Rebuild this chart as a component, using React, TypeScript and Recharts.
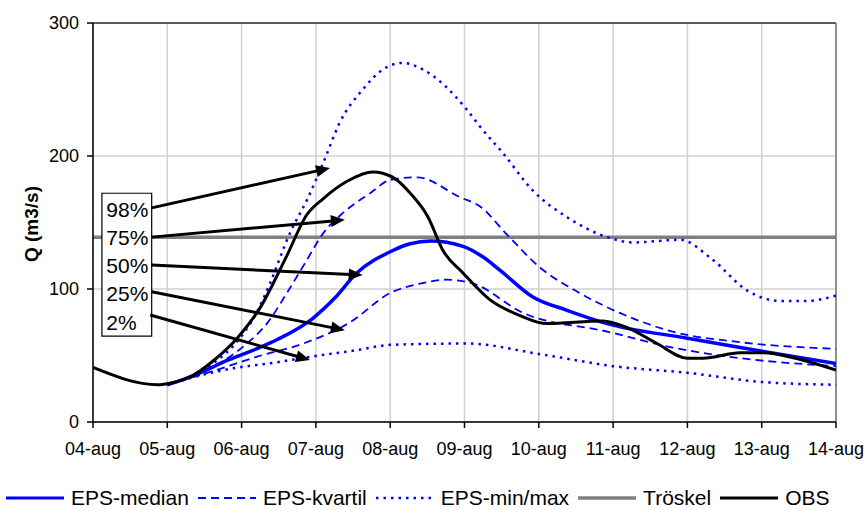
import {
  LineChart,
  Line,
  XAxis,
  YAxis,
  CartesianGrid,
  ReferenceLine,
  ReferenceArea,
  ReferenceDot,
  Label,
} from "recharts";

// x = days after 04-aug 00:00
const dateLabels = [
  "04-aug", "05-aug", "06-aug", "07-aug", "08-aug", "09-aug",
  "10-aug", "11-aug", "12-aug", "13-aug", "14-aug",
];
const yTicks = [0, 100, 200, 300];

const obsDay = [0, 0.87, 1.02, 1.31, 1.64, 1.94, 2.25, 2.6, 2.88, 3.1, 3.42, 3.77, 3.9, 4.09, 4.27, 4.51, 4.71, 4.98, 5.34, 5.75, 6.11, 6.86, 7.19, 7.59, 8.0, 8.21, 8.71, 9.02, 9.52, 10];
const obsQ = [41, 28, 29, 34, 47, 63, 86, 124, 156, 168, 181, 188, 187, 182, 172, 154, 129, 112, 92, 80, 74, 76, 71, 59, 48, 48, 52, 52, 47, 39];

const medianDay = [1.0, 1.31, 1.84, 2.2, 2.48, 2.96, 3.25, 3.55, 4.0, 4.27, 4.54, 4.98, 5.25, 5.48, 5.92, 6.38, 6.92, 8.0, 8.71, 10];
const medianQ = [28, 34, 47, 55, 62, 78, 93, 112, 128, 134, 136, 132, 124, 114, 94, 84, 74, 63, 56, 44];

const q75Day = [1.0, 1.4, 1.84, 2.07, 2.34, 2.61, 2.88, 3.1, 3.36, 3.73, 4.0, 4.36, 4.94, 5.21, 5.57, 6.02, 6.55, 7.09, 7.8, 8.71, 10];
const q75Q = [28, 36, 49, 59, 74, 97, 122, 142, 157, 172, 182, 184, 169, 162, 141, 116, 97, 82, 68, 60, 55];

const q25Day = [1.0, 1.6, 2.2, 2.83, 3.46, 4.0, 4.4, 4.76, 5.12, 5.79, 6.92, 7.8, 8.71, 10];
const q25Q = [28, 38, 49, 59, 75, 97, 104, 107, 104, 82, 68, 56, 48, 42];

const maxDay = [1.0, 1.5, 1.9, 2.2, 2.38, 2.65, 2.88, 3.1, 3.32, 3.63, 3.9, 4.17, 4.44, 5.03, 5.21, 5.52, 5.92, 6.38, 6.92, 7.27, 7.9, 8.34, 8.8, 9.25, 9.6, 10];
const maxQ = [28, 40, 58, 82, 104, 142, 167, 195, 225, 250, 265, 270, 265, 235, 222, 202, 174, 154, 139, 135, 137, 122, 99, 91, 91, 95];

const minDay = [1.0, 1.75, 2.48, 2.92, 3.55, 4.0, 5.03, 6.02, 7.0, 8.0, 9.02, 10];
const minQ = [28, 39, 45, 49, 54, 58, 59, 51, 42, 37, 30, 28];

const tröskelDay = [0, 10];
const tröskelQ = [139, 139];

// annotation: percentile labels with arrows
const pctLabels = ["98%", "75%", "50%", "25%", "2%"];
const pctLabelQ = [159.5, 139, 117.5, 96.5, 75];
const arrowStartDay = [0.79, 0.79, 0.79, 0.79, 0.77];
const arrowStartQ = [161, 139, 118, 98, 80.5];
const arrowEndDay = [3.19, 3.39, 3.63, 3.39, 2.92];
const arrowEndQ = [191, 152, 110.5, 69, 46.6];

const zip = (xs: number[], ys: number[]) => xs.map((x, i) => ({ x, q: ys[i] }));

const FONT = "'Liberation Sans', Arial, sans-serif";
const BLUE = "#0000ff";

const Arrow = (p: any) => {
  const { x1, y1, x2, y2 } = p;
  const dx = x2 - x1;
  const dy = y2 - y1;
  const len = Math.sqrt(dx * dx + dy * dy);
  const ux = dx / len;
  const uy = dy / len;
  const head = 14;
  const bx = x2 - ux * head;
  const by = y2 - uy * head;
  const w = 6;
  return (
    <g>
      <line x1={x1} y1={y1} x2={bx + ux * 2} y2={by + uy * 2} stroke="#000" strokeWidth={3} />
      <polygon
        points={`${x2},${y2} ${bx - uy * w},${by + ux * w} ${bx + uy * w},${by - ux * w}`}
        fill="#000"
      />
    </g>
  );
};

const legendItems = [
  { name: "EPS-median", color: BLUE, width: 3, dash: undefined },
  { name: "EPS-kvartil", color: BLUE, width: 2, dash: "8 5" },
  { name: "EPS-min/max", color: BLUE, width: 2.5, dash: "2.5 5" },
  { name: "Tröskel", color: "#808080", width: 3.5, dash: undefined },
  { name: "OBS", color: "#000", width: 3, dash: undefined },
];

export default function App() {
  return (
    <div style={{ position: "absolute", left: 0, top: 0, width: 867, height: 510, background: "#fff", fontFamily: FONT }}>
      <LineChart
        width={867}
        height={510}
        margin={{ top: 23, right: 31, bottom: 48, left: 0 }}
      >
        <CartesianGrid stroke="#d0d0d0" strokeWidth={1.5} />
        <XAxis
          type="number"
          dataKey="x"
          domain={[0, 10]}
          ticks={dateLabels.map((_, i) => i)}
          tickFormatter={(v: number) => dateLabels[v]}
          interval={0}
          height={40}
          stroke="#000"
          strokeWidth={1.5}
          tickSize={6}
          tickMargin={14}
          tick={{ fill: "#000", fontSize: 18, fontFamily: FONT }}
          allowDataOverflow
        />
        <YAxis
          type="number"
          domain={[0, 300]}
          ticks={yTicks}
          width={93}
          stroke="#000"
          strokeWidth={1.5}
          tickSize={6}
          tickMargin={8}
          tick={{ fill: "#000", fontSize: 18, fontFamily: FONT }}
        >
          <Label
            content={() => (
              <text
                x={31}
                y={224}
                transform="rotate(-90 31 224)"
                textAnchor="middle"
                dominantBaseline="central"
                fontSize={19}
                fontWeight="bold"
                fontFamily={FONT}
                fill="#000"
              >
                Q (m3/s)
              </text>
            )}
          />
        </YAxis>
        <ReferenceLine y={300} stroke="#333" strokeWidth={1.5} />
        <ReferenceLine x={10} stroke="#777" strokeWidth={1.5} />

        <Line data={zip(tröskelDay, tröskelQ)} dataKey="q" stroke="#808080" strokeWidth={3.5} dot={false} isAnimationActive={false} />
        <Line data={zip(maxDay, maxQ)} dataKey="q" type="monotone" stroke={BLUE} strokeWidth={2.5} strokeDasharray="2.5 5" dot={false} isAnimationActive={false} />
        <Line data={zip(minDay, minQ)} dataKey="q" type="monotone" stroke={BLUE} strokeWidth={2.5} strokeDasharray="2.5 5" dot={false} isAnimationActive={false} />
        <Line data={zip(q75Day, q75Q)} dataKey="q" type="monotone" stroke={BLUE} strokeWidth={1.8} strokeDasharray="8 5" dot={false} isAnimationActive={false} />
        <Line data={zip(q25Day, q25Q)} dataKey="q" type="monotone" stroke={BLUE} strokeWidth={1.8} strokeDasharray="8 5" dot={false} isAnimationActive={false} />
        <Line data={zip(medianDay, medianQ)} dataKey="q" type="monotone" stroke={BLUE} strokeWidth={3.5} dot={false} isAnimationActive={false} />
        <Line data={zip(obsDay, obsQ)} dataKey="q" type="monotone" stroke="#000" strokeWidth={3} dot={false} isAnimationActive={false} />

        <ReferenceArea x1={0.12} x2={0.79} y1={64.5} y2={172} fill="#fff" fillOpacity={1} stroke="#000" strokeWidth={1.2} ifOverflow="visible" zIndex={1500} />
        {pctLabels.map((t, i) => (
          <ReferenceDot
            key={t}
            x={0.18}
            y={pctLabelQ[i]}
            r={0}
            zIndex={1600}
            shape={(p: any) => (
              <text x={p.cx} y={p.cy} dominantBaseline="central" fontSize={21} fontFamily={FONT} fill="#000">
                {t}
              </text>
            )}
          />
        ))}
        {pctLabels.map((t, i) => (
          <ReferenceLine
            key={"a" + t}
            segment={[
              { x: arrowStartDay[i], y: arrowStartQ[i] },
              { x: arrowEndDay[i], y: arrowEndQ[i] },
            ]}
            zIndex={1600}
            shape={Arrow}
          />
        ))}
      </LineChart>
      <div
        style={{
          position: "absolute",
          left: 6,
          top: 486,
          display: "flex",
          alignItems: "center",
          fontSize: 21,
          color: "#000",
          whiteSpace: "nowrap",
        }}
      >
        {legendItems.map((it) => (
          <div key={it.name} style={{ display: "flex", alignItems: "center", marginRight: 9 }}>
            <svg width={58} height={12}>
              <line x1={0} y1={6} x2={58} y2={6} stroke={it.color} strokeWidth={it.width} strokeDasharray={it.dash} />
            </svg>
            <span style={{ marginLeft: 7 }}>{it.name}</span>
          </div>
        ))}
      </div>
    </div>
  );
}
